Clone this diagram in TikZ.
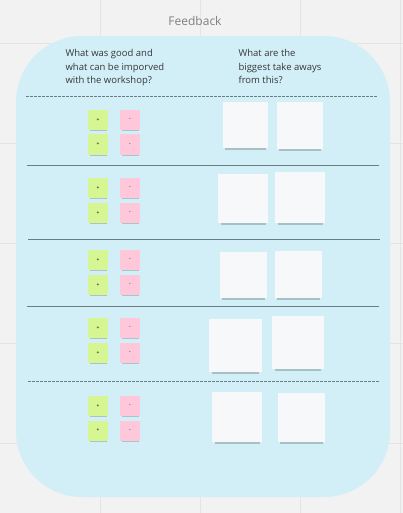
\documentclass[tikz,border=0pt]{standalone}
\usepackage{fontspec}
\setmainfont{Open Sans}
\definecolor{boardgray}{RGB}{242, 242, 242}
\definecolor{gridgray}{RGB}{228, 228, 228}
\definecolor{frameblue}{RGB}{210, 239, 247}
\definecolor{notegreen}{RGB}{213, 246, 146}
\definecolor{notepink}{RGB}{255, 200, 218}
\definecolor{notewhite}{RGB}{247, 248, 250}
\definecolor{rulegray}{RGB}{105, 125, 132}
\definecolor{textdark}{RGB}{55, 55, 55}
\usetikzlibrary{shadows, positioning}

\tikzset{
  smallnote/.style={minimum size=20pt, inner sep=0pt, font=\fontsize{5}{5}\selectfont,
    general shadow={fill=black, opacity=0.18, shadow scale=0.85, shadow yshift=-3pt}},
  goodnote/.style={smallnote, fill=notegreen},
  badnote/.style={smallnote, fill=notepink},
  takenote/.style={fill=notewhite, inner sep=0pt,
    general shadow={fill=black, opacity=0.2, shadow scale=0.9, shadow yshift=-5pt}},
  rowline/.style={draw=rulegray, line width=0.8pt},
  dashline/.style={rowline, dash pattern=on 3pt off 1pt},
  question/.style={anchor=north west, align=left, text=textdark,
    font=\fontsize{9.5}{13.5}\selectfont}
}

\begin{document}
\begin{tikzpicture}[x=1pt, y=-1pt]
  % board
  \fill[boardgray] (0,0) rectangle (403,513);
  \useasboundingbox (0,0) rectangle (403,513);
  \foreach \gx in {100,200,300,400}
    \draw[gridgray, line width=0.8pt] (\gx,0) -- (\gx,513);
  \foreach \gy in {43,143,243,343,443}
    \draw[gridgray, line width=0.8pt] (0,\gy) -- (403,\gy);

  % frame
  \fill[frameblue, rounded corners=66pt] (16,36) rectangle (390,497);
  \node[text=gray, font=\fontsize{12}{14}\selectfont] (title) at (195,21) {Feedback};

  % questions
  \node[question] (goodq) at (62,46) {What was good and\\what can be imporved\\with the workshop?};
  \node[question] (takeq) at (235,46) {What are the\\biggest take aways\\from this?};

  % row rules
  \draw[dashline] (26,96) -- (378,96);
  \draw[rowline] (27,165) -- (379,165);
  \draw[rowline] (28,239) -- (380,239);
  \draw[rowline] (27,306) -- (379,306);
  \draw[dashline] (28,381) -- (380,381);

  % plus / minus notes
  \foreach \i/\ya/\yb in {1/120/144.5, 2/188/213, 3/260/285, 4/328/353, 5/406/430.5} {
    \node[goodnote] (g\i a) at (98,\ya) {+};
    \node[goodnote] (g\i b) at (98,\yb) {+};
    \node[badnote] (p\i a) at (130,\ya) {-};
    \node[badnote] (p\i b) at (130,\yb) {-};
  }

  % take away notes
  \node[takenote, minimum width=45pt, minimum height=46pt] (w1a) at (245.5,125) {};
  \node[takenote, minimum width=46pt, minimum height=47pt] (w1b) at (300,125.5) {};
  \node[takenote, minimum width=50pt, minimum height=49pt] (w2a) at (243,198.5) {};
  \node[takenote, minimum width=50pt, minimum height=51pt] (w2b) at (300,197.5) {};
  \node[takenote, minimum width=47pt, minimum height=46pt] (w3a) at (243.5,275) {};
  \node[takenote, minimum width=47pt, minimum height=47pt] (w3b) at (298.5,274.5) {};
  \node[takenote, minimum width=53pt, minimum height=53pt] (w4a) at (235.5,345.5) {};
  \node[takenote, minimum width=52pt, minimum height=53pt] (w4b) at (298,342.5) {};
  \node[takenote, minimum width=50pt, minimum height=50pt] (w5a) at (237,417) {};
  \node[takenote, minimum width=47pt, minimum height=49pt] (w5b) at (301.5,417.5) {};
\end{tikzpicture}
\end{document}
